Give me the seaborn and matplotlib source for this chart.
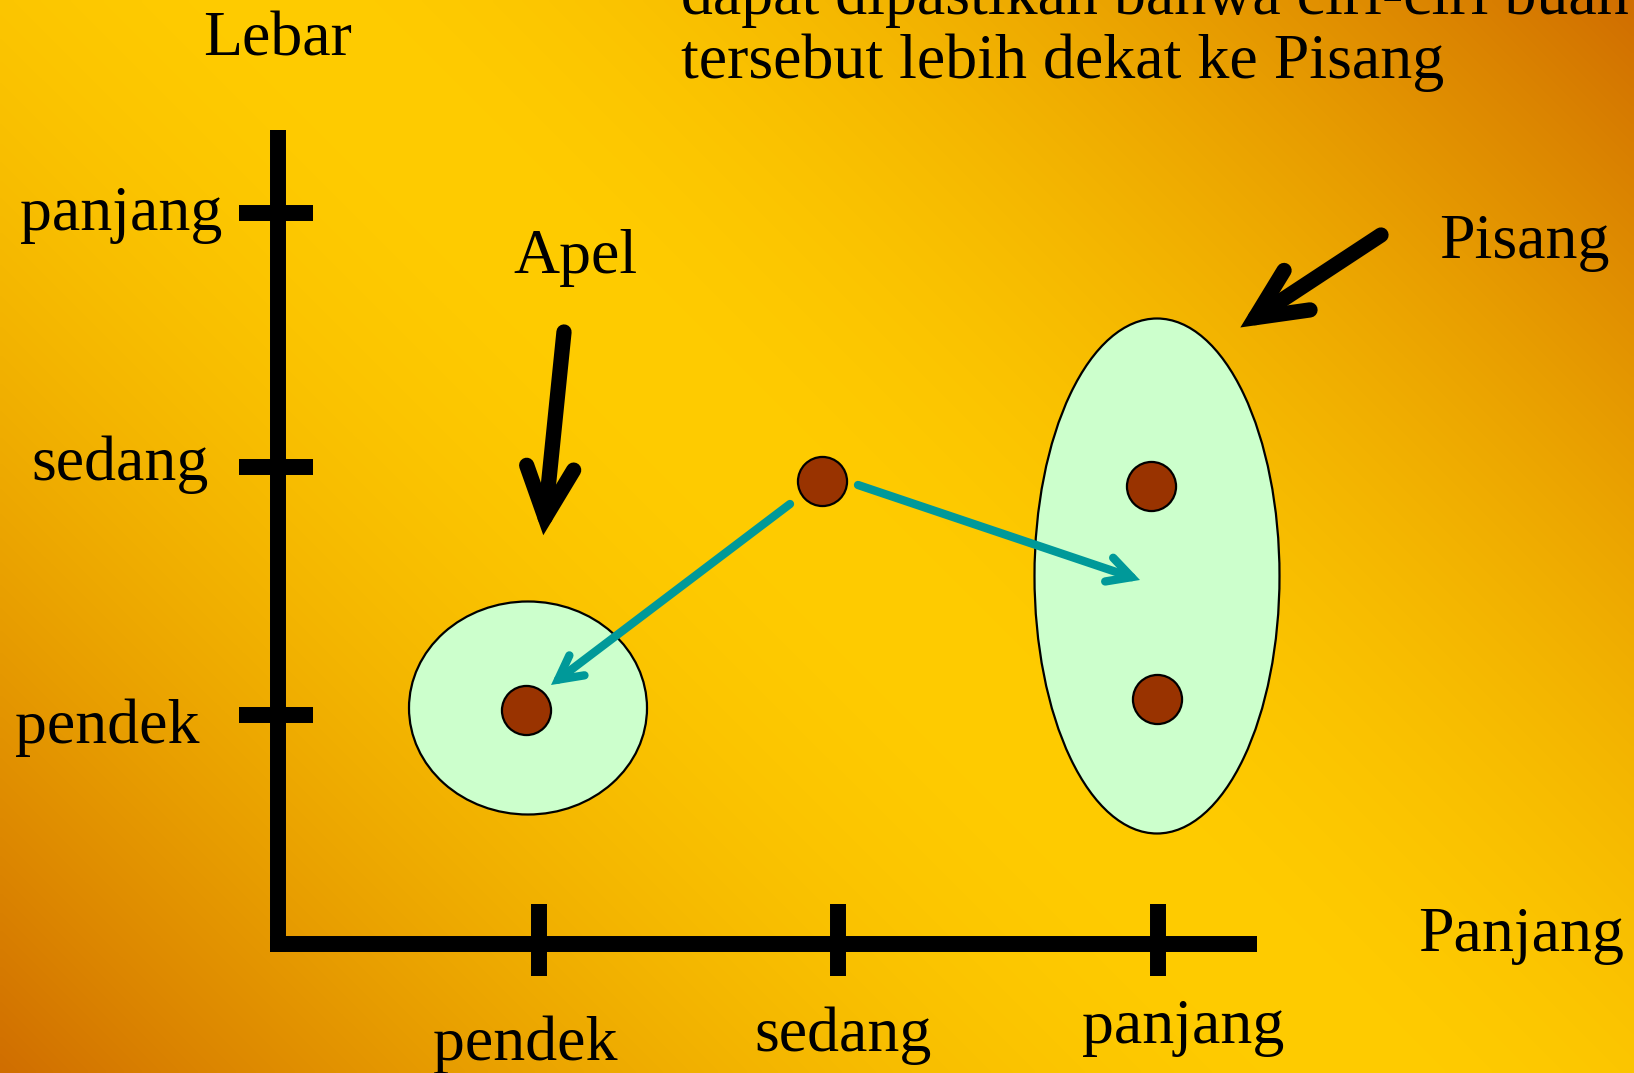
import numpy as np
import pandas as pd
import matplotlib
matplotlib.use("Agg")
import matplotlib.pyplot as plt
from matplotlib.patches import Ellipse, FancyArrowPatch, ArrowStyle
import seaborn as sns

# ---------------- data (slide pixel units) ----------------
x_categories = ["pendek", "sedang", "panjang"]
x_tick_pos = [539, 838, 1158]
x_label_pos = [(433, 1060), (754, 1051), (1082, 1043)]

y_categories = ["pendek", "sedang", "panjang"]
y_tick_pos = [715, 467, 213]
y_label_pos = [(15, 743), (31, 480), (20, 230)]

apel_x = [526]
apel_y = [710]
pisang_x = [1151, 1157]
pisang_y = [486, 699]
unknown_x = [822]
unknown_y = [481]

apel_cluster = (528, 708, 238, 213)      # cx, cy, width, height
pisang_cluster = (1157, 576, 245, 515)

text_lines = ["dapat dipastikan bahwa ciri-ciri buah", "tersebut lebih dekat ke Pisang"]

W, H = 1634, 1073

sns.set_theme(style="white")
plt.rcParams["font.family"] = ["Liberation Serif", "DejaVu Serif"]
plt.rcParams["text.color"] = "black"

fig = plt.figure(figsize=(W / 100, H / 100), dpi=100)
ax = fig.add_axes([0, 0, 1, 1])

# ---------------- gradient background (45 deg, orange corners, yellow band) ----------------
xs = np.linspace(0, W, 410)
ys = np.linspace(0, H, 270)
xx, yy = np.meshgrid(xs, ys)
g = xx - yy
peak = (W - H) / 2
half = (W + H) / 2
t = np.clip(1 - np.abs(g - peak) / half, 0, 1)
f = 1 - (1 - t) ** 1.7
edge = np.array([208, 110, 0]) / 255
mid = np.array([255, 204, 0]) / 255
img = edge[None, None, :] + (mid - edge)[None, None, :] * f[..., None]
ax.imshow(img, extent=[0, W, H, 0], aspect="auto", zorder=0, interpolation="bilinear")

# ---------------- axes lines ----------------
axis_lw = 11.5
origin_x, origin_y = 278.5, 944
ax.plot([origin_x, origin_x], [130, 952], color="black", lw=axis_lw, solid_capstyle="butt", zorder=2)
ax.plot([270, 1257], [origin_y, origin_y], color="black", lw=axis_lw, solid_capstyle="butt", zorder=2)
for yp in y_tick_pos:
    ax.plot([239, 313], [yp, yp], color="black", lw=axis_lw, solid_capstyle="butt", zorder=2)
for xp in x_tick_pos:
    ax.plot([xp, xp], [904, 976], color="black", lw=axis_lw, solid_capstyle="butt", zorder=2)

fs = 46
for lab, (lx, ly) in zip(x_categories, x_label_pos):
    ax.text(lx, ly, lab, fontsize=fs, ha="left", va="baseline", color="black")
for lab, (lx, ly) in zip(y_categories, y_label_pos):
    ax.text(lx, ly, lab, fontsize=fs, ha="left", va="baseline", color="black")
ax.text(203, 55, "Lebar", fontsize=fs, ha="left", va="baseline", color="black")
ax.text(1418, 951, "Panjang", fontsize=fs, ha="left", va="baseline", color="black")
ax.text(513, 273, "Apel", fontsize=fs, ha="left", va="baseline", color="black")
ax.text(1439, 258, "Pisang", fontsize=fs, ha="left", va="baseline", color="black")
ax.text(681, 14, text_lines[0], fontsize=fs, ha="left", va="baseline", color="black")
ax.text(681, 78, text_lines[1], fontsize=fs, ha="left", va="baseline", color="black")

# ---------------- clusters ----------------
for cx, cy, w, h in [apel_cluster, pisang_cluster]:
    ax.add_patch(Ellipse((cx, cy), w, h, facecolor="#CCFFCC", edgecolor="black", lw=1.6, zorder=3))

# ---------------- points ----------------
df = pd.DataFrame({
    "x": apel_x + pisang_x + unknown_x,
    "y": apel_y + pisang_y + unknown_y,
    "kelas": ["Apel"] * len(apel_x) + ["Pisang"] * len(pisang_x) + ["?"] * len(unknown_x),
})
sns.scatterplot(data=df, x="x", y="y", ax=ax, s=1250, color="#993300", edgecolor="black",
                linewidth=1.6, legend=False, zorder=5)

# ---------------- arrows ----------------
def arrow(p0, p1, color, lw, hl, hw, shrink):
    st = ArrowStyle("->", head_length=hl, head_width=hw)
    a = FancyArrowPatch(p0, p1, arrowstyle=st, mutation_scale=1, color=color, lw=lw,
                        capstyle="round", joinstyle="miter", shrinkA=0, shrinkB=shrink, zorder=6)
    ax.add_patch(a)

arrow((564, 332), (543, 538), "black", 11, 36, 17, 2)
arrow((1381, 235), (1238, 329), "black", 11, 36, 17, 2)
arrow((790, 504), (551, 685), "#009999", 6, 17, 9, 0)
arrow((858, 485), (1140, 580), "#009999", 6, 17, 9, 0)

ax.set_xlim(0, W)
ax.set_ylim(H, 0)
ax.set_axis_off()

fig.savefig("out.png", dpi=100)
